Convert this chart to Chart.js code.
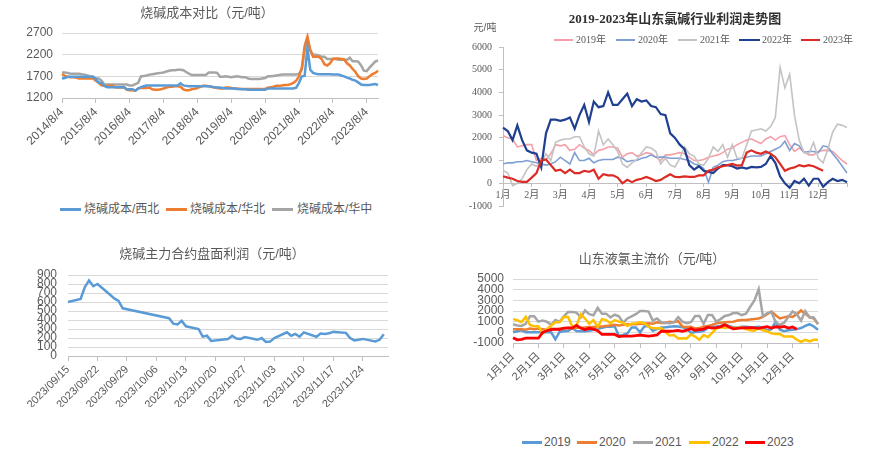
<!DOCTYPE html>
<html><head><meta charset="utf-8">
<script src="https://cdn.jsdelivr.net/npm/chart.js@4.4.0/dist/chart.umd.min.js"></script>
<style>
body{margin:0;width:886px;height:458px;background:#fff;position:relative;overflow:hidden;font-family:"Liberation Sans","Noto Sans CJK SC",sans-serif;}
canvas{position:absolute;}
.t{position:absolute;color:#595959;font-size:13px;white-space:nowrap;transform:translate(-50%,-50%);line-height:1;}
.lg{position:absolute;color:#595959;white-space:nowrap;line-height:1;transform:translateY(-50%);}
.ln{position:absolute;}
</style></head><body>
<canvas id="c1" width="430" height="200" style="left:0;top:0"></canvas>
<canvas id="c2" width="441" height="185" style="left:445px;top:35px"></canvas>
<canvas id="c3" width="430" height="218" style="left:0;top:240px"></canvas>
<canvas id="c4" width="441" height="185" style="left:445px;top:240px"></canvas>
<div id="txt"></div>
<script>
// ================= DATA =================
// Chart 1: 烧碱成本对比 (monthly, 2014/8 .. 2023/12)
const costTicks = ['2014/8/4','2015/8/4','2016/8/4','2017/8/4','2018/8/4','2019/8/4','2020/8/4','2021/8/4','2022/8/4','2023/8/4'];
const costNW = [1650,1660,1690,1690,1690,1690,1690,1690,1690,1690,1690,1690,
 1640,1550,1550,1480,1450,1450,1450,1450,1450,1450,1450,1400,
 1400,1400,1370,1420,1450,1470,1490,1490,1490,1490,1490,1490,
 1490,1490,1490,1490,1490,1490,1540,1490,1480,1470,1470,1470,
 1470,1470,1470,1470,1470,1460,1450,1440,1440,1430,1420,1420,
 1420,1420,1410,1410,1400,1400,1390,1390,1390,1390,1390,1390,
 1390,1420,1420,1420,1420,1420,1420,1420,1420,1420,1420,1440,
 1550,1700,1710,2350,1850,1780,1760,1750,1750,1750,1750,1750,
 1740,1740,1740,1720,1700,1670,1650,1620,1600,1560,1510,1500,
 1500,1500,1510,1520,1500];
const costNC = [1750,1710,1690,1680,1680,1670,1650,1650,1650,1650,1650,1650,
 1600,1550,1490,1480,1480,1480,1480,1440,1440,1440,1440,1390,
 1380,1380,1370,1420,1430,1430,1430,1440,1400,1390,1390,1400,
 1420,1440,1460,1460,1470,1470,1460,1400,1380,1380,1400,1410,
 1430,1460,1480,1480,1470,1460,1440,1430,1420,1420,1440,1440,
 1430,1420,1420,1410,1410,1410,1410,1410,1410,1410,1410,1410,
 1410,1440,1450,1460,1480,1480,1490,1500,1500,1520,1550,1600,
 1700,1900,2400,2620,2300,2150,2150,2150,2100,1980,1950,2000,
 2100,2110,2110,2100,2090,2000,1950,1870,1800,1700,1650,1640,
 1650,1700,1750,1780,1830];
const costCC = [1790,1790,1780,1760,1760,1760,1760,1750,1740,1720,1700,1690,
 1650,1650,1600,1510,1510,1510,1510,1510,1510,1510,1510,1510,
 1490,1490,1520,1550,1700,1710,1720,1740,1750,1760,1770,1780,
 1790,1810,1830,1840,1840,1850,1850,1840,1800,1760,1730,1730,
 1730,1730,1730,1730,1790,1790,1790,1780,1690,1690,1700,1690,
 1680,1690,1700,1690,1680,1680,1650,1640,1640,1640,1640,1650,
 1660,1700,1700,1710,1720,1730,1740,1740,1740,1740,1740,1740,
 1760,1850,2300,2550,2300,2200,2200,2180,2150,2150,2100,2100,
 2100,2100,2080,2080,2080,2080,2130,2050,2050,2040,1950,1830,
 1820,1900,1970,2040,2070];

// Chart 2: 2019-2023年山东氯碱行业利润 (73 points per year)
const profitMonths = ['1月','2月','3月','4月','5月','6月','7月','8月','9月','10月','11月','12月'];
const profit2019 = [2100,2000,1950,1600,1650,1700,1700,1000,1100,1050,1300,1700,1650,1700,1450,1500,1700,1550,1450,1250,1450,1500,1600,1600,1550,1150,1300,1350,1200,1250,1350,1300,1150,1000,1250,1250,1300,1350,1300,1150,1000,1000,1050,1150,1200,1250,1350,1500,1550,1700,1800,1900,1950,1850,1750,1950,2050,1900,2050,2100,1700,1400,1550,1400,1250,1250,1400,1450,1450,1400,1200,1000,850];
const profit2020 = [850,900,900,950,950,1000,950,900,850,800,850,950,1150,1000,850,1350,1000,1000,1100,900,1000,1050,1050,1050,1150,1100,950,1000,1000,1100,1150,1250,1150,1150,1150,1100,1100,1100,1050,1000,850,800,650,50,700,800,950,1000,1000,1050,1100,1150,1200,1200,1200,1300,1400,1500,1600,1850,1450,1750,1650,1350,1400,1400,1350,1650,1600,1300,1050,750,450];
const profit2021 = [570,450,-100,0,200,600,850,750,900,1300,1000,1800,1900,1950,1950,2050,2050,1600,1300,1200,2300,1700,1950,1700,1400,850,700,900,1050,1350,1600,1550,1400,850,1100,800,720,1100,1600,1300,1200,850,800,1100,1600,1400,1700,1150,1700,1100,1100,1700,2300,2350,2400,2300,2500,2900,5100,4200,4800,3000,1900,1350,1300,1800,1100,900,1500,2250,2600,2550,2450];
const profit2022 = [2450,2300,1900,2550,1900,1450,1350,1300,700,2200,2800,2800,2750,2800,2900,2400,3000,3450,2700,3600,3350,3400,4000,3450,3450,3700,3950,3400,3700,3600,3650,3400,3350,3050,3000,2200,2000,1700,1500,800,600,750,550,500,450,650,800,800,750,650,700,650,720,700,720,850,1200,900,300,0,-200,100,0,200,-100,200,200,-150,50,200,100,150,50];
const profit2023 = [310,250,200,100,60,60,250,450,1000,1050,800,550,600,450,600,450,450,550,500,600,200,400,350,350,250,0,150,50,150,200,280,200,100,150,280,400,280,270,300,280,280,350,350,550,600,700,750,800,850,780,800,1350,1450,1350,1300,1400,1300,1150,850,550,650,700,800,750,800,750,650,550,null,null,null,null,null];

// Chart 3: 烧碱主力合约盘面利润
const futTicks = ['2023/09/15','2023/09/22','2023/09/29','2023/10/06','2023/10/13','2023/10/20','2023/10/27','2023/11/03','2023/11/10','2023/11/17','2023/11/24'];
const futDates = ['09/15','09/18','09/19','09/20','09/21','09/22','09/25','09/26','09/27','09/28','10/09','10/10','10/11','10/12','10/13','10/16','10/17','10/18','10/19','10/23','10/24','10/25','10/26','10/27','10/30','10/31','11/01','11/02','11/03','11/06','11/07','11/08','11/09','11/10','11/13','11/14','11/15','11/16','11/17','11/20','11/21','11/22','11/24','11/27','11/28','11/29'];
const futProfit = [600,635,765,840,775,800,680,640,612,530,420,360,350,390,330,300,215,225,168,188,225,195,190,210,180,200,157,160,200,264,225,245,214,262,214,250,245,252,268,257,200,173,190,161,180,241];

// Chart 4: 山东液氯主流价 (73 points per year)
const chlorTicks = ['1月1日','2月1日','3月1日','4月1日','5月1日','6月1日','7月1日','8月1日','9月1日','10月1日','11月1日','12月1日'];
const chlor2019 = [0,100,190,0,0,0,0,0,0,0,-650,40,100,130,380,130,100,100,150,230,340,420,530,530,560,-350,-250,-100,450,450,0,550,600,150,300,450,470,520,570,540,480,380,-50,40,50,150,420,530,540,600,750,600,480,430,530,530,480,480,530,380,200,300,1000,250,100,200,250,300,400,600,760,550,250];
const chlor2020 = [300,300,300,250,350,300,350,300,250,350,300,350,350,400,350,450,400,450,500,500,550,550,600,650,700,650,700,750,750,750,800,800,850,800,950,870,880,990,950,1050,535,500,520,350,400,550,600,700,850,900,950,980,1000,1100,1150,1150,1200,1250,1300,1450,1700,1950,1600,1300,1400,1500,1450,1700,2050,1750,1450,1300,800];
const chlor2021 = [750,650,600,800,1500,1500,1000,1100,1000,700,1150,1000,1500,1900,1900,1850,1400,2050,1700,1600,2300,1750,1750,1400,1650,1500,900,1300,1500,1700,2000,2000,1950,1100,1300,950,900,860,950,1430,1000,860,950,1530,1530,800,1620,1620,1000,1240,1530,1620,1810,1810,1620,1750,2400,3000,4050,1500,1800,1900,950,700,900,1430,1950,1700,1100,2000,1400,1400,750];
const chlor2022 = [1240,1150,950,1450,700,570,570,-100,300,650,950,950,1430,1430,535,650,1700,1300,800,1150,500,1240,1150,850,1150,1000,900,600,800,850,950,850,535,400,350,400,0,-300,-250,-570,-550,-570,-200,-400,-700,-250,-450,-50,350,500,400,500,400,420,450,300,200,150,380,200,100,-100,-150,-150,-400,-400,-400,-700,-900,-700,-850,-700,-700];
const chlor2023 = [-500,-700,-650,-550,-550,-550,-550,0,150,250,300,250,400,420,420,650,400,250,380,300,150,-200,-200,-200,-200,-400,-350,-350,-350,-300,-250,-300,-350,-300,-250,100,100,100,130,190,100,200,350,200,250,300,480,400,450,520,700,500,330,380,420,420,450,420,380,460,535,400,520,480,550,400,500,300,null,null,null,null,null];

// ================= HELPERS =================
const GRID = '#d9d9d9', AXIS = '#bfbfbf', TXT = '#595959';
const SANS = '"Liberation Sans","Noto Sans CJK SC",sans-serif';
const SERIF = '"Liberation Serif","Noto Sans CJK SC",serif';
const plain = v => String(v);

function geom(box, area) {
  return {
    padding: {top: area.t - box.y, right: box.x + box.w - area.r, left: 0, bottom: box.y + box.h - area.b},
    yFit: s => { s.width = area.l - box.x; s.paddingTop = 0; s.paddingBottom = 0; },
    xFit: s => { s.height = box.y + box.h - area.b; s.paddingLeft = 0; s.paddingRight = 0; }
  };
}
function ds(label, data, color, w, order) {
  return {label, data, borderColor: color, backgroundColor: color, borderWidth: w, pointRadius: 0, pointHoverRadius: 0, tension: 0, fill: false, spanGaps: true, order};
}
const base = {responsive: false, animation: false, devicePixelRatio: 1, plugins: {legend: {display: false}, title: {display: false}, tooltip: {enabled: false}}, events: []};

// ---- Chart 1
(function(){
  const costMonths = costNW.map((_, i) => { const m = 7 + i; return (2014 + Math.floor(m / 12)) + '/' + (m % 12 + 1); });
  const g = geom({x:0,y:0,w:430,h:200}, {l:62,t:33,r:378,b:149});
  new Chart(document.getElementById('c1'), {type: 'line',
    data: {labels: costMonths, datasets: [
      ds('烧碱成本/西北', costNW, '#5b9bd5', 2.5, 0),
      ds('烧碱成本/华北', costNC, '#ed7d31', 2.5, 1),
      ds('烧碱成本/华中', costCC, '#a5a5a5', 2.5, 2)]},
    options: Object.assign({}, base, {layout: {padding: g.padding}, scales: {
      x: {type: 'category', offset: false, afterFit: g.xFit,
        afterBuildTicks: s => { s.ticks = s.ticks.filter(t => t.value % 12 === 0); },
        grid: {drawOnChartArea: false, drawTicks: true, tickLength: 5, color: AXIS},
        border: {display: true, color: AXIS},
        ticks: {autoSkip: false, minRotation: 45, maxRotation: 45, padding: 2, color: TXT, font: {family: SANS, size: 12},
          callback: v => costTicks[v / 12]}},
      y: {min: 1200, max: 2700, afterFit: g.yFit,
        grid: {drawTicks: false, color: c => c.tick.value === 1200 ? 'rgba(0,0,0,0)' : GRID},
        border: {display: false},
        ticks: {stepSize: 500, autoSkip: false, padding: 9, color: TXT, font: {family: SANS, size: 12}, callback: plain}}
    }})
  });
})();

// ---- Chart 2
(function(){
  const idx = profit2019.map((_, i) => String(i));
  const g = geom({x:445,y:35,w:441,h:185}, {l:503,t:47,r:847,b:206});
  new Chart(document.getElementById('c2'), {type: 'line',
    data: {labels: idx, datasets: [
      ds('2019年', profit2019, '#f4a0a8', 1.6, 4),
      ds('2020年', profit2020, '#7f9fd4', 1.6, 3),
      ds('2021年', profit2021, '#c3c3c3', 1.6, 2),
      ds('2022年', profit2022, '#1f3f8f', 2.2, 1),
      ds('2023年', profit2023, '#dc2b25', 2.2, 0)]},
    options: Object.assign({}, base, {layout: {padding: g.padding}, scales: {
      x: {type: 'category', offset: false, position: {y: 0}, afterFit: g.xFit,
        afterBuildTicks: s => { s.ticks = s.ticks.filter(t => t.value % 6 === 0); },
        grid: {drawOnChartArea: false, drawTicks: true, tickLength: 3, color: AXIS},
        border: {display: true, color: AXIS},
        ticks: {autoSkip: false, maxRotation: 0, minRotation: 0, padding: 3, color: TXT, font: {family: SERIF, size: 10},
          callback: v => (v < 72 ? profitMonths[v / 6] : '')}},
      y: {min: -1000, max: 6000, afterFit: g.yFit,
        grid: {drawOnChartArea: false, drawTicks: true, tickLength: 4, color: AXIS},
        border: {display: true, color: AXIS},
        ticks: {stepSize: 1000, autoSkip: false, padding: 7, color: TXT, font: {family: SERIF, size: 10}, callback: plain}}
    }})
  });
})();

// ---- Chart 3
(function(){
  const days = [];
  for (let d = 15; d <= 30; d++) days.push('09/' + String(d).padStart(2, '0'));
  for (let d = 1; d <= 31; d++) days.push('10/' + String(d).padStart(2, '0'));
  for (let d = 1; d <= 30; d++) days.push('11/' + String(d).padStart(2, '0'));
  const series = days.map(d => { const k = futDates.indexOf(d); return k >= 0 ? futProfit[k] : null; });
  const g = geom({x:0,y:240,w:430,h:218}, {l:68,t:275,r:388,b:407});
  new Chart(document.getElementById('c3'), {type: 'line',
    data: {labels: days, datasets: [ds('盘面利润', series, '#5b9bd5', 2.5, 0)]},
    options: Object.assign({}, base, {layout: {padding: g.padding}, scales: {
      x: {type: 'category', offset: false, afterFit: g.xFit,
        afterBuildTicks: s => { s.ticks = s.ticks.filter(t => t.value % 7 === 0); },
        grid: {drawOnChartArea: false, drawTicks: true, tickLength: 5, color: AXIS},
        border: {display: true, color: AXIS},
        ticks: {autoSkip: false, minRotation: 45, maxRotation: 45, padding: 2, color: TXT, font: {family: SANS, size: 11},
          callback: v => futTicks[v / 7]}},
      y: {min: 0, max: 900, afterFit: g.yFit,
        grid: {drawTicks: false, color: c => c.tick.value === 0 ? 'rgba(0,0,0,0)' : GRID},
        border: {display: false},
        ticks: {stepSize: 100, autoSkip: false, padding: 11, color: TXT, font: {family: SANS, size: 12}, callback: plain}}
    }})
  });
})();

// ---- Chart 4
(function(){
  const idx = chlor2019.map((_, i) => String(i));
  const g = geom({x:445,y:240,w:441,h:185}, {l:513,t:279,r:818,b:384});
  new Chart(document.getElementById('c4'), {type: 'line',
    data: {labels: idx, datasets: [
      ds('2019', chlor2019, '#5b9bd5', 2.5, 4),
      ds('2020', chlor2020, '#ed7d31', 2.5, 3),
      ds('2021', chlor2021, '#a5a5a5', 2.5, 2),
      ds('2022', chlor2022, '#ffc000', 2.5, 1),
      ds('2023', chlor2023, '#ff0000', 2.8, 0)]},
    options: Object.assign({}, base, {layout: {padding: g.padding}, scales: {
      x: {type: 'category', offset: false, afterFit: g.xFit,
        afterBuildTicks: s => { s.ticks = s.ticks.filter(t => t.value % 6 === 0); },
        grid: {drawOnChartArea: false, drawTicks: true, tickLength: 5, color: AXIS},
        border: {display: true, color: AXIS},
        ticks: {autoSkip: false, minRotation: 45, maxRotation: 45, padding: 2, color: TXT, font: {family: SANS, size: 11},
          callback: v => (v < 72 ? chlorTicks[v / 6] : '')}},
      y: {min: -1000, max: 5000, afterFit: g.yFit,
        grid: {drawTicks: false, color: c => c.tick.value === -1000 ? 'rgba(0,0,0,0)' : GRID},
        border: {display: false},
        ticks: {stepSize: 1000, autoSkip: false, padding: 9, color: TXT, font: {family: SANS, size: 12}, callback: plain}}
    }})
  });
})();

// ================= TEXT (titles, legends) =================
const txt = document.getElementById('txt');
function title(s, x, y, extra) {
  const d = document.createElement('div'); d.className = 't'; d.textContent = s;
  d.style.left = x + 'px'; d.style.top = y + 'px'; if (extra) Object.assign(d.style, extra); txt.appendChild(d);
}
function legend(items, y, size, thick, font) {
  items.forEach(([x1, x2, color, tx, label]) => {
    const l = document.createElement('div'); l.className = 'ln';
    Object.assign(l.style, {left: x1 + 'px', width: (x2 - x1) + 'px', top: (y - thick / 2) + 'px', height: thick + 'px', background: color});
    txt.appendChild(l);
    const t = document.createElement('div'); t.className = 'lg'; t.textContent = label;
    Object.assign(t.style, {left: tx + 'px', top: y + 'px', fontSize: size + 'px'});
    if (font) t.style.fontFamily = font;
    txt.appendChild(t);
  });
}
title('烧碱成本对比（元/吨）', 207, 12);
title('2019-2023年山东氯碱行业利润走势图', 675, 18, {fontWeight: 'bold', color: '#303030', fontFamily: SERIF});
title('元/吨', 485, 28, {fontSize: '10px'});
title('烧碱主力合约盘面利润（元/吨）', 212, 253);
title('山东液氯主流价（元/吨）', 652, 258);
legend([[60,81,'#5b9bd5',84,'烧碱成本/西北'],[166,187,'#ed7d31',190,'烧碱成本/华北'],[272,293,'#a5a5a5',297,'烧碱成本/华中']], 209, 12, 3);
legend([[554,573,'#f4a0a8',576,'2019年'],[616,635,'#7f9fd4',638,'2020年'],[678,697,'#c3c3c3',700,'2021年'],[739,760,'#1f3f8f',762,'2022年'],[801,820,'#dc2b25',823,'2023年']], 40, 10, 2, SERIF);
legend([[522,542,'#5b9bd5',544,'2019'],[577,597,'#ed7d31',599,'2020'],[633,653,'#a5a5a5',655,'2021'],[689,710,'#ffc000',712,'2022'],[745,765,'#ff0000',767,'2023']], 442, 12, 3);
</script>
</body></html>
